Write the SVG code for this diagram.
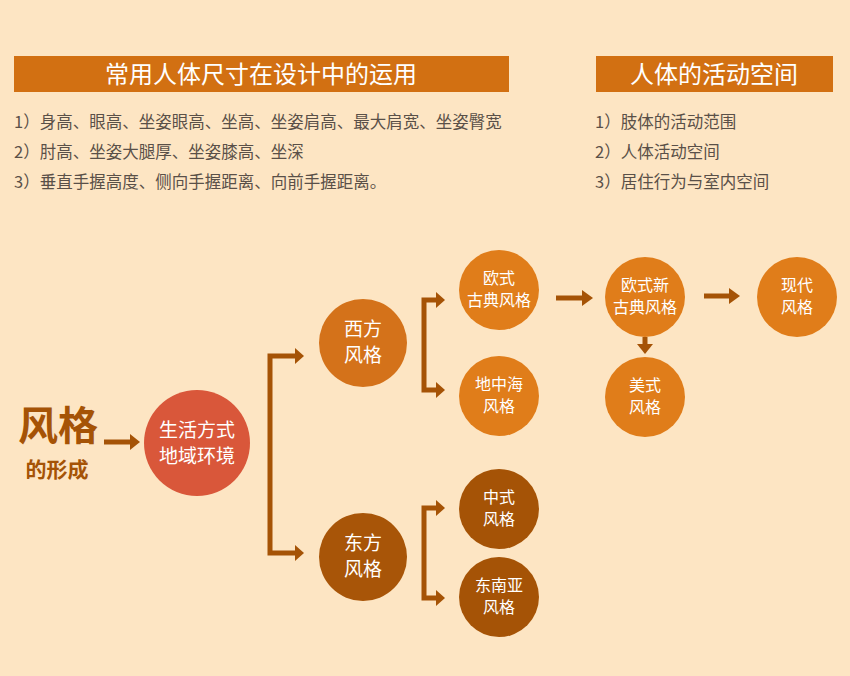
<svg xmlns="http://www.w3.org/2000/svg" width="850" height="676" viewBox="0 0 850 676">
<defs>
<style>
text{font-family:"Noto Sans CJK SC","Noto Sans",sans-serif}
.hd{fill:#fff;font-size:24px;text-anchor:middle}
.li{fill:#5a5048;font-size:16.5px}
.ct{fill:#fff;font-size:19px;text-anchor:middle}
.cs{fill:#fff;font-size:16px;text-anchor:middle}
.ln{fill:none;stroke:#a55306;stroke-width:5}
.ah{fill:#a55306}
</style>
</defs>
<rect width="850" height="676" fill="#fde5c3"/>
<g id="hdr1"><rect x="14" y="56" width="495" height="36" fill="#d27012"/><text class="hd" x="261" y="83">常用人体尺寸在设计中的运用</text></g>
<g id="hdr2"><rect x="596" y="56" width="237" height="36" fill="#d27012"/><text class="hd" x="714" y="83">人体的活动空间</text></g>
<g id="list1">
<text class="li" x="14" y="128">1）身高、眼高、坐姿眼高、坐高、坐姿肩高、最大肩宽、坐姿臀宽</text>
<text class="li" x="14" y="158">2）肘高、坐姿大腿厚、坐姿膝高、坐深</text>
<text class="li" x="14" y="188">3）垂直手握高度、侧向手握距离、向前手握距离。</text>
</g>
<g id="list2">
<text class="li" x="595" y="128">1）肢体的活动范围</text>
<text class="li" x="595" y="158">2）人体活动空间</text>
<text class="li" x="595" y="188">3）居住行为与室内空间</text>
</g>
<g id="title"><text x="58" y="440" font-size="40" font-weight="bold" fill="#a55306" text-anchor="middle">风格</text><text x="57" y="477" font-size="21" font-weight="bold" fill="#a55306" text-anchor="middle">的形成</text></g>
<g id="connectors">
<path class="ln" d="M104 442H132"/><polygon class="ah" points="130,434 140,442 130,450"/>
<path class="ln" d="M297 356H270V553H297"/><polygon class="ah" points="295,348 304,356 295,364"/><polygon class="ah" points="295,545 304,553 295,561"/>
<path class="ln" d="M438 300H424V390H438"/><polygon class="ah" points="436,292 445,300 436,308"/><polygon class="ah" points="436,382 445,390 436,398"/>
<path class="ln" d="M438 508H424V598H438"/><polygon class="ah" points="436,500 445,508 436,516"/><polygon class="ah" points="436,590 445,598 436,606"/>
<path class="ln" d="M556 298H584"/><polygon class="ah" points="582,290 593,298 582,306"/>
<path class="ln" d="M645 337V346"/><polygon class="ah" points="637,344 653,344 645,354"/>
<path class="ln" d="M704 296H731"/><polygon class="ah" points="729,288 740,296 729,304"/>
</g>
<g id="n-center"><circle cx="197" cy="443" r="53" fill="#d9573a"/><text class="ct" x="197" y="437">生活方式</text><text class="ct" x="197" y="463">地域环境</text></g>
<g id="n-west"><circle cx="363" cy="343" r="44" fill="#d4721a"/><text class="ct" x="363" y="336">西方</text><text class="ct" x="363" y="362">风格</text></g>
<g id="n-east"><circle cx="363" cy="557" r="44" fill="#a85508"/><text class="ct" x="363" y="550">东方</text><text class="ct" x="363" y="576">风格</text></g>
<g id="n-eu"><circle cx="499" cy="290" r="40" fill="#e07d1a"/><text class="cs" x="499" y="284">欧式</text><text class="cs" x="499" y="306">古典风格</text></g>
<g id="n-med"><circle cx="499" cy="396" r="40" fill="#e07d1a"/><text class="cs" x="499" y="390">地中海</text><text class="cs" x="499" y="412">风格</text></g>
<g id="n-cn"><circle cx="499" cy="509" r="40" fill="#a55306"/><text class="cs" x="499" y="503">中式</text><text class="cs" x="499" y="525">风格</text></g>
<g id="n-sea"><circle cx="499" cy="597" r="40" fill="#a55306"/><text class="cs" x="499" y="591">东南亚</text><text class="cs" x="499" y="613">风格</text></g>
<g id="n-neo"><circle cx="645" cy="297" r="40" fill="#e07d1a"/><text class="cs" x="645" y="291">欧式新</text><text class="cs" x="645" y="313">古典风格</text></g>
<g id="n-us"><circle cx="645" cy="397" r="40" fill="#e07d1a"/><text class="cs" x="645" y="391">美式</text><text class="cs" x="645" y="413">风格</text></g>
<g id="n-mod"><circle cx="797" cy="297" r="40" fill="#e07d1a"/><text class="cs" x="797" y="291">现代</text><text class="cs" x="797" y="313">风格</text></g>
</svg>
